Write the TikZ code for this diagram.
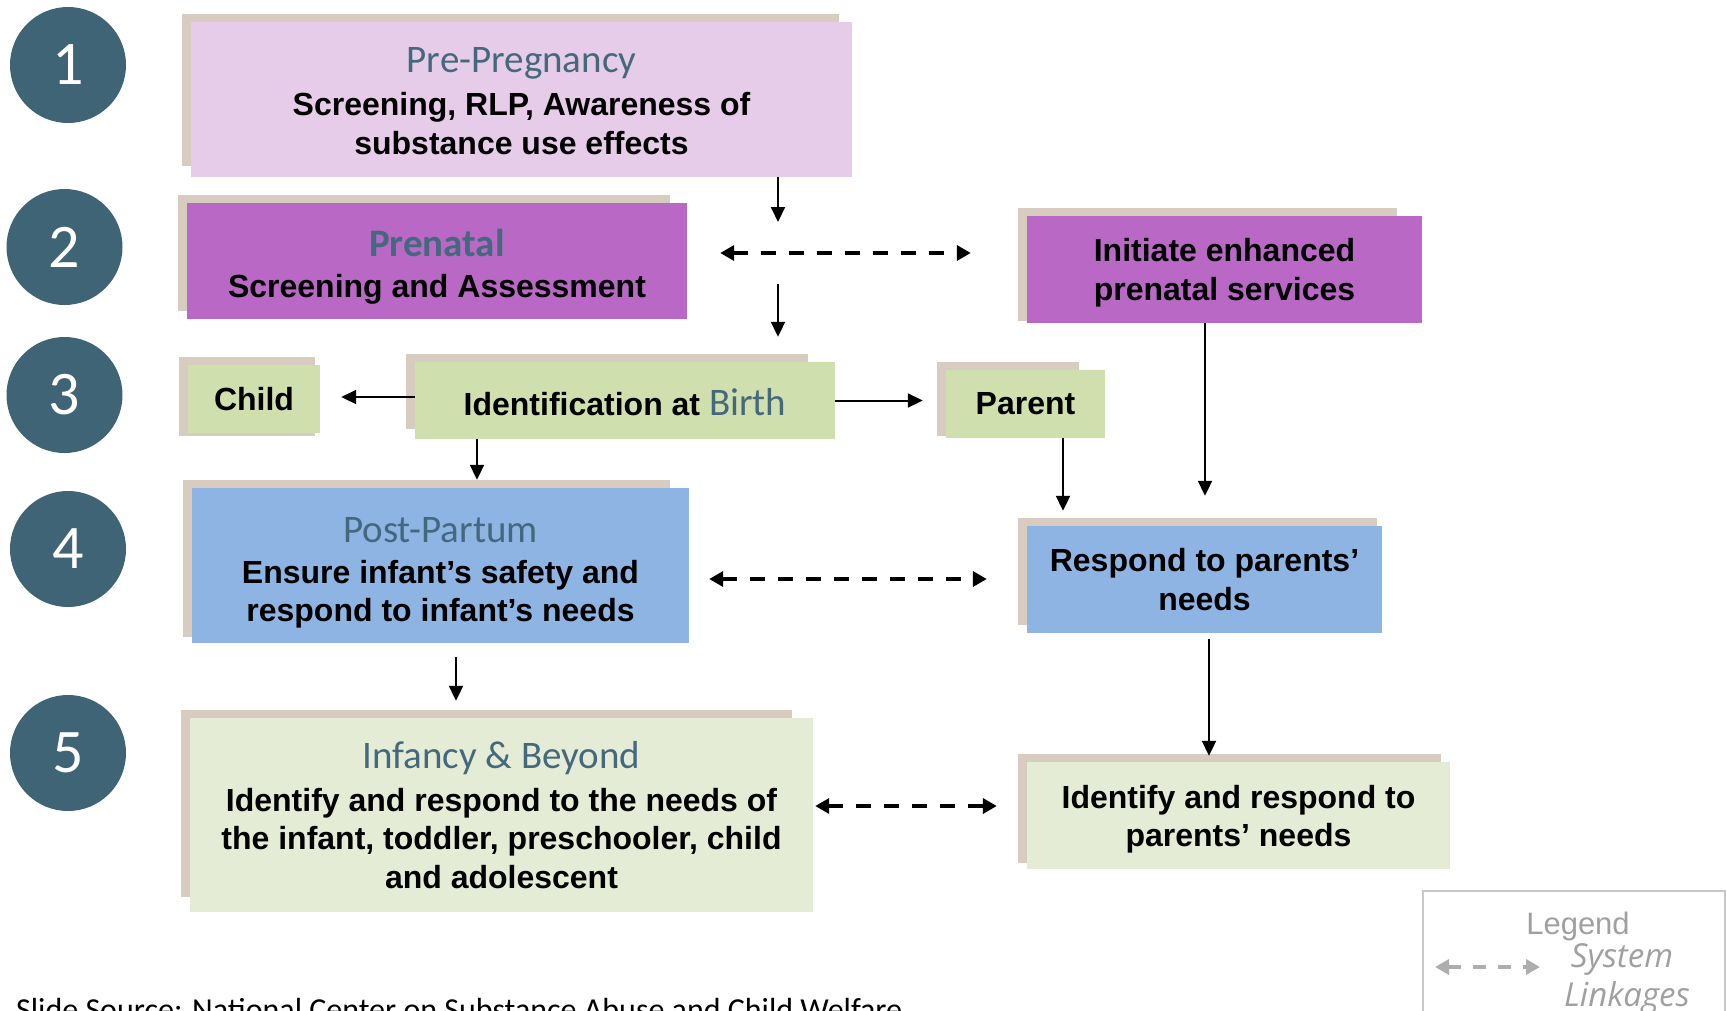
\documentclass[tikz,border=0pt]{standalone}
\usepackage{fontspec}
\setmainfont{Liberation Sans}
\newfontfamily\calibri{Carlito}
\newfontfamily\handfont{Open Sans}
\usetikzlibrary{arrows.meta,backgrounds}

\definecolor{stepteal}{RGB}{63,100,118}
\definecolor{titleteal}{RGB}{68,105,125}
\definecolor{shadowtan}{RGB}{216,204,192}
\definecolor{prepink}{RGB}{230,204,233}
\definecolor{prepurple}{RGB}{185,104,197}
\definecolor{birthgreen}{RGB}{208,223,174}
\definecolor{palegreen}{RGB}{229,236,214}
\definecolor{postblue}{RGB}{142,180,227}
\definecolor{legendgray}{RGB}{160,160,160}
\definecolor{legendline}{RGB}{200,200,200}

\newcommand{\bodyfont}{\bfseries\fontsize{32}{38.5}\selectfont}
\newcommand{\stagetitle}[1]{{\calibri\mdseries\fontsize{39}{43}\selectfont\color{titleteal}#1}}
\newcommand{\toppad}[1]{\rule{0pt}{#1pt}}
% shadow behind a box: fixed top-left offset, own bottom-right offset
\newcommand{\tanshadow}[3]{\fill[shadowtan] ([shift={(-9,-8)}]#1.north west) rectangle ([shift={(#2,#3)}]#1.south east);}

\begin{document}
\begin{tikzpicture}[x=1pt, y=-1pt,
    stepnum/.style={circle, fill=stepteal, minimum size=116pt, inner sep=0pt, text=white,
      font=\calibri\fontsize{62}{62}\selectfont},
    stagebox/.style={inner sep=0pt, align=center, font=\bodyfont},
    flow/.style={-{Triangle[length=15pt,width=14pt]}, line width=2pt},
    linkage/.style={{Triangle[length=14pt,width=15pt]}-{Triangle[length=14pt,width=15pt]},
      line width=4pt, dash pattern=on 15pt off 13pt}]
  \useasboundingbox (0,0) rectangle (1727,1010);

  % Step numbers
  \node[stepnum] (n1) at (68,65) {1};
  \node[stepnum] (n2) at (64.5,247) {2};
  \node[stepnum] (n3) at (64.5,395) {3};
  \node[stepnum] (n4) at (68,549) {4};
  \node[stepnum] (n5) at (68,753) {5};

  % Row 1
  \node[stagebox, fill=prepink, minimum width=661pt, minimum height=155pt] (pre) at (521.5,99.5)
    {\toppad{28.5}\stagetitle{Pre-Pregnancy}\\[4.5pt] Screening, RLP, Awareness of\\ substance use effects};
  % Row 2
  \node[stagebox, fill=prepurple, minimum width=500pt, minimum height=116pt] (prenatal) at (437,261)
    {\toppad{38.5}\stagetitle{\bfseries Prenatal}\\[2.5pt] Screening and Assessment};
  \node[stagebox, fill=prepurple, minimum width=395pt, minimum height=107pt] (initiate) at (1224.5,269.5)
    {\toppad{30}Initiate enhanced\\ prenatal services};
  % Row 3
  \node[stagebox, fill=birthgreen, minimum width=132pt, minimum height=68pt] (child) at (254,399) {Child};
  \node[stagebox, fill=birthgreen, minimum width=420pt, minimum height=77pt] (ident) at (625,400.5)
    {\toppad{30}Identification at \stagetitle{Birth}};
  \node[stagebox, fill=birthgreen, minimum width=159pt, minimum height=68pt] (parent) at (1025.5,404) {Parent};
  % Row 4
  \node[stagebox, fill=postblue, minimum width=497pt, minimum height=155pt] (post) at (440.5,565.5)
    {\toppad{40}\stagetitle{Post-Partum}\\[2.5pt] Ensure infant’s safety and\\ respond to infant’s needs};
  \node[stagebox, fill=postblue, minimum width=355pt, minimum height=107pt] (respond) at (1204.5,579.5)
    {Respond to parents’\\ needs};
  % Row 5
  \node[stagebox, fill=palegreen, minimum width=623pt, minimum height=194pt] (infancy) at (501.5,815)
    {\stagetitle{Infancy \& Beyond}\\[4.5pt] Identify and respond to the needs of\\
     the infant, toddler, preschooler, child\\ and adolescent};
  \node[stagebox, fill=palegreen, minimum width=423pt, minimum height=107pt] (idparents) at (1238.5,815.5)
    {\toppad{31}Identify and respond to\\ parents’ needs};

  \begin{scope}[on background layer]
    \tanshadow{pre}{-13}{-11}
    \tanshadow{prenatal}{-17}{-8}
    \tanshadow{initiate}{-25}{-2}
    \tanshadow{child}{-5}{3}
    \tanshadow{ident}{-27}{-10}
    \tanshadow{parent}{-26}{-2}
    \tanshadow{post}{-19}{-6}
    \tanshadow{respond}{-5}{-8}
    \tanshadow{infancy}{-21}{-15}
    \tanshadow{idparents}{-9}{-6}
  \end{scope}

  % Flow arrows
  \coordinate (midcol) at (778,222);
  \coordinate (midstart) at (778,284);
  \coordinate (birthdown) at (477,0);
  \coordinate (parentdown) at (1063,0);
  \coordinate (initdown) at (1205,0);
  \coordinate (postdown) at (456,0);
  \coordinate (responddown) at (1209,0);
  \draw[flow] (pre.south -| midcol) -- (midcol);
  \draw[flow, shorten >=25pt] (midstart) -- (midstart |- ident.north);
  \draw[flow, shorten >=21pt] ([yshift=3.5pt]ident.west) -- ([yshift=3.5pt]ident.west -| child.east);
  \draw[flow, shorten >=23pt] (ident.east) -- (ident.east -| parent.west);
  \draw[flow, shorten >=8pt] (ident.south -| birthdown) -- (post.north -| birthdown);
  \draw[flow, shorten >=15pt] (parent.south -| parentdown) -- (respond.north -| parentdown);
  \draw[flow, shorten >=30pt] (initiate.south -| initdown) -- (respond.north -| initdown);
  \draw[flow, shorten <=14pt, shorten >=17pt] (post.south -| postdown) -- (infancy.north -| postdown);
  \draw[flow, shorten <=6pt, shorten >=6pt] (respond.south -| responddown) -- (idparents.north -| responddown);

  % System linkages
  \coordinate (link2) at (0,253);
  \coordinate (link4) at (0,579);
  \coordinate (link5) at (0,806);
  \draw[linkage, shorten <=33pt, shorten >=56pt] (prenatal.east |- link2) -- (initiate.west |- link2);
  \draw[linkage, shorten <=20pt, shorten >=40pt] (post.east |- link4) -- (respond.west |- link4);
  \draw[linkage, shorten <=2pt, shorten >=30pt] (infancy.east |- link5) -- (idparents.west |- link5);

  % Legend
  \node[draw=legendline, line width=1.5pt, anchor=north west, minimum width=302pt, minimum height=150pt] (legend) at (1422,890) {};
  \node[anchor=base, text=legendgray, font=\fontsize{31}{31}\selectfont] (legendtitle) at (1578,934) {Legend};
  \node[anchor=base, text=legendgray, font=\handfont\itshape\fontsize{33}{33}\selectfont] (legsystem) at (1622,967) {System};
  \node[anchor=base, text=legendgray, font=\handfont\itshape\fontsize{33}{33}\selectfont] (leglinks) at (1627,1006) {Linkages};
  \coordinate (legl) at (1435,967);
  \coordinate (legr) at (1540,967);
  \draw[linkage, draw=legendgray!85!white, dash pattern=on 13pt off 12pt] (legl) -- (legr);

  % Source line
  \node[anchor=base west, inner sep=0pt, font=\calibri\fontsize{32}{32}\selectfont] (source) at (16,1020)
    {Slide Source: National Center on Substance Abuse and Child Welfare};
\end{tikzpicture}
\end{document}
